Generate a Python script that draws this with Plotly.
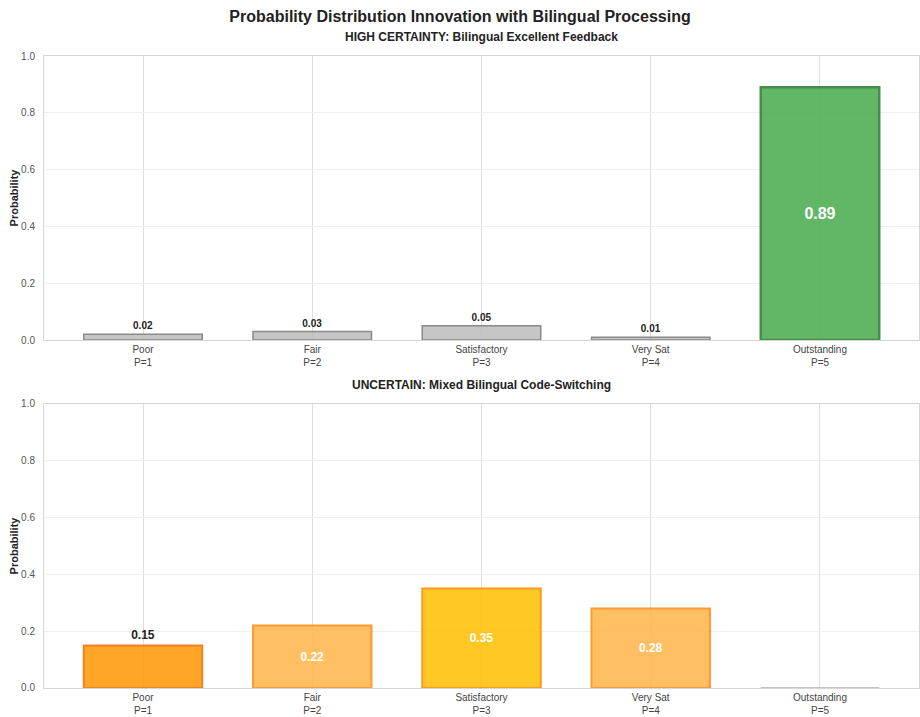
import plotly.graph_objects as go
from plotly.subplots import make_subplots

categories = ["Poor<br>P=1", "Fair<br>P=2", "Satisfactory<br>P=3", "Very Sat<br>P=4", "Outstanding<br>P=5"]
high_values = [0.02, 0.03, 0.05, 0.01, 0.89]
uncertain_values = [0.15, 0.22, 0.35, 0.28, 0.00]
yticks = [0.0, 0.2, 0.4, 0.6, 0.8, 1.0]

title = "Probability Distribution Innovation with Bilingual Processing"
sub1 = "HIGH CERTAINTY: Bilingual Excellent Feedback"
sub2 = "UNCERTAIN: Mixed Bilingual Code-Switching"

high_fill = ["#bfbfbf", "#bfbfbf", "#bfbfbf", "#bfbfbf", "#4cae50"]
high_edge = ["#7a7a7a", "#7a7a7a", "#7a7a7a", "#7a7a7a", "#2e7d32"]
unc_fill = ["#ff9a0a", "#ffb74d", "#ffc107", "#ffb74d", "#bfbfbf"]
unc_edge = ["#f0700a", "#ff8c1a", "#ff8c00", "#ff8c1a", "#bdbdbd"]

FONT = "Liberation Sans, Arial, Helvetica, sans-serif"

fig = make_subplots(rows=2, cols=1, vertical_spacing=0.1012)

def labels(vals, big_thresh):
    txt, pos, col, size = [], [], [], []
    for v in vals:
        if v <= 0.001:
            txt.append(""); pos.append("none"); col.append("#222"); size.append(10)
        elif v >= big_thresh:
            txt.append(f"<b>{v:.2f}</b>"); pos.append("inside"); col.append("white"); size.append(16 if v > 0.5 else 12)
        else:
            txt.append(f"<b>{v:.2f}</b>"); pos.append("outside"); col.append("#222"); size.append(10 if v < 0.1 else 12)
    return txt, pos, col, size

t1, p1, c1, s1 = labels(high_values, 0.5)
fig.add_trace(go.Bar(
    x=categories, y=high_values, width=0.7,
    marker=dict(color=high_fill, line=dict(color=high_edge, width=[1.5, 1.5, 1.5, 1.5, 2.5]), opacity=0.88),
    text=t1, textposition=p1, textangle=0, insidetextanchor="middle", cliponaxis=False,
    textfont=dict(color=c1, size=s1, family=FONT),
    outsidetextfont=dict(color=c1, size=s1, family=FONT),
    showlegend=False, hoverinfo="skip"), row=1, col=1)

t2, p2, c2, s2 = labels(uncertain_values, 0.2)
fig.add_trace(go.Bar(
    x=categories, y=uncertain_values, width=0.7,
    marker=dict(color=unc_fill, line=dict(color=unc_edge, width=2), opacity=0.88),
    text=t2, textposition=p2, textangle=0, insidetextanchor="middle", cliponaxis=False,
    textfont=dict(color=c2, size=s2, family=FONT),
    outsidetextfont=dict(color=c2, size=s2, family=FONT),
    showlegend=False, hoverinfo="skip"), row=2, col=1)

for r in (1, 2):
    fig.update_xaxes(row=r, col=1, type="category", range=[-0.585, 4.585],
                     showgrid=True, gridcolor="#dedede", gridwidth=1,
                     showline=True, linecolor="#d6d6d6", linewidth=1, mirror=True,
                     ticks="", tickfont=dict(size=10, color="#444", family=FONT), zeroline=False)
    fig.update_yaxes(row=r, col=1, range=[0, 1.0], tickvals=yticks,
                     ticktext=[f"{v:.1f}" for v in yticks],
                     showgrid=True, gridcolor="#efefef", gridwidth=1,
                     showline=True, linecolor="#d6d6d6", linewidth=1, mirror=True,
                     ticks="", ticklabelstandoff=6,
                     tickfont=dict(size=10, color="#555", family=FONT), zeroline=False,
                     title=dict(text="<b>Probability</b>", font=dict(size=11, color="#222", family=FONT), standoff=0))

fig.update_layout(
    width=920, height=717,
    margin=dict(l=44, r=1, t=56, b=29),
    paper_bgcolor="white", plot_bgcolor="white",
    bargap=0.3,
    font=dict(family=FONT, color="#222"),
    title=dict(text=f"<b>{title}</b>", x=0.5, xanchor="center", y=1 - 16 / 717, yanchor="middle",
               font=dict(size=16, color="#222", family=FONT)),
    annotations=[
        dict(text=f"<b>{sub1}</b>", xref="paper", yref="paper", x=0.5, y=1.0, yshift=19,
             xanchor="center", yanchor="middle", showarrow=False, font=dict(size=12, color="#222", family=FONT)),
        dict(text=f"<b>{sub2}</b>", xref="paper", yref="paper", x=0.5, y=284 / 632, yshift=19,
             xanchor="center", yanchor="middle", showarrow=False, font=dict(size=12, color="#222", family=FONT)),
    ],
)

fig.write_html("out.html")
